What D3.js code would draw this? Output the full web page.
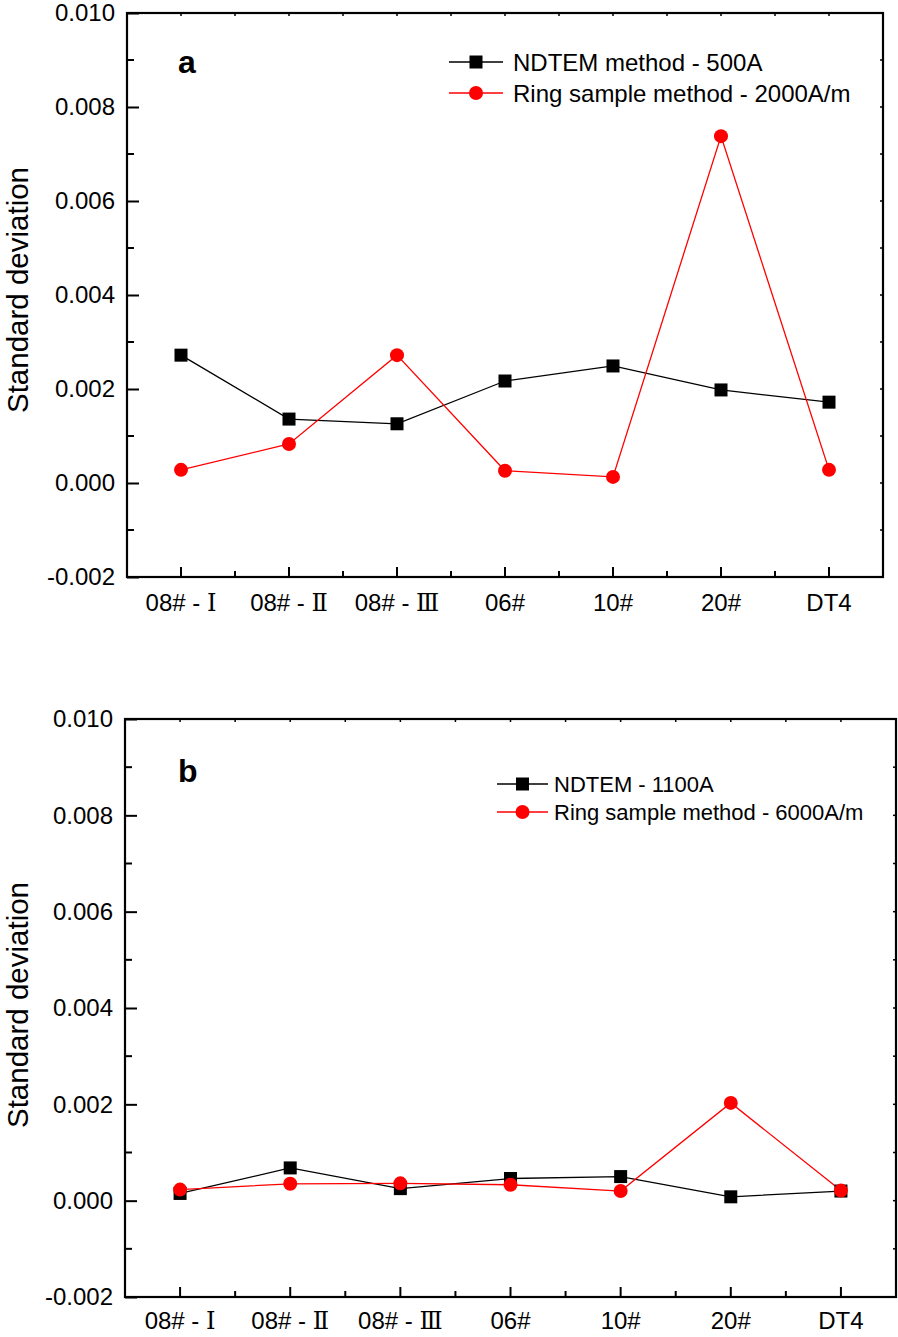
<!DOCTYPE html>
<html><head><meta charset="utf-8">
<script src="https://cdn.jsdelivr.net/npm/d3@7"></script>
<style>
html,body{margin:0;padding:0;background:#fff;}
svg{display:block;font-family:"Liberation Sans",Arial,sans-serif;}
</style></head>
<body>
<svg id="chart" width="898" height="1337"></svg>
<script>
const categories = ["08# - \u2160", "08# - \u2161", "08# - \u2162", "06#", "10#", "20#", "DT4"];
const yTicks = [-0.002, 0, 0.002, 0.004, 0.006, 0.008, 0.010];
const yTickLabels = ["-0.002", "0.000", "0.002", "0.004", "0.006", "0.008", "0.010"];

const ndtemA = [0.00272, 0.00136, 0.00126, 0.00217, 0.00249, 0.00198, 0.00172];
const ringA  = [0.00028, 0.00083, 0.00272, 0.00026, 0.00013, 0.00738, 0.00028];
const ndtemB = [0.00015, 0.00068, 0.00025, 0.00046, 0.00050, 0.00008, 0.00020];
const ringB  = [0.00023, 0.00035, 0.00036, 0.00033, 0.00020, 0.00203, 0.00021];

const legendA = ["NDTEM method - 500A", "Ring sample method - 2000A/m"];
const legendB = ["NDTEM - 1100A", "Ring sample method - 6000A/m"];

const svg = d3.select("#chart");

function panel(cfg) {
  const g = svg.append("g");
  const x = d3.scaleBand().domain(categories).range([cfg.left, cfg.right]).padding(0);
  const y = d3.scaleLinear().domain([-0.002, 0.010]).range([cfg.bottom, cfg.top]);
  const cx = d => x(d) + x.bandwidth() / 2;

  const yMinor = d3.range(-0.001, 0.0100001, 0.002);
  const xMinor = categories.slice(1).map(c => x(c));

  // left axis
  const left = g.append("g").attr("transform", `translate(${cfg.left},0)`)
    .call(d3.axisLeft(y).tickValues(yTicks).tickFormat((d, i) => yTickLabels[i]).tickSize(-12).tickPadding(12));
  left.select(".domain").remove();
  left.selectAll("line").attr("stroke", "#000").attr("stroke-width", 2);
  left.selectAll("text").attr("font-size", 24).attr("fill", "#000").attr("font-family", "Liberation Sans, Arial, sans-serif");
  g.selectAll(".yminor").data(yMinor).enter().append("line")
    .attr("x1", cfg.left).attr("x2", cfg.left + 7)
    .attr("y1", d => y(d)).attr("y2", d => y(d))
    .attr("stroke", "#000").attr("stroke-width", 2);

  // right ticks (tiny)
  g.selectAll(".yright").data(yTicks.concat(yMinor)).enter().append("line")
    .attr("x1", cfg.right).attr("x2", cfg.right - 3)
    .attr("y1", d => y(d)).attr("y2", d => y(d))
    .attr("stroke", "#000").attr("stroke-width", 1.5);

  // bottom axis
  const bottom = g.append("g").attr("transform", `translate(0,${cfg.bottom})`)
    .call(d3.axisBottom(x).tickSize(-10).tickPadding(cfg.xPad));
  bottom.select(".domain").remove();
  bottom.selectAll("line").attr("stroke", "#000").attr("stroke-width", 2);
  bottom.selectAll("text").attr("font-size", 24).attr("fill", "#000").attr("font-family", "Liberation Sans, Arial, sans-serif")
    .each(function(d) {
      const t = d3.select(this);
      const m = d.match(/^(.*?)([\u2160-\u216F]+)$/);
      if (m) {
        t.text(null);
        t.append("tspan").text(m[1]);
        t.append("tspan").attr("font-family", "DejaVu Serif, Liberation Serif, serif").text(m[2]);
      }
    });
  g.selectAll(".xminor").data(xMinor).enter().append("line")
    .attr("x1", d => d).attr("x2", d => d)
    .attr("y1", cfg.bottom).attr("y2", cfg.bottom - 6)
    .attr("stroke", "#000").attr("stroke-width", 2);

  // top tiny ticks
  g.selectAll(".xtop").data(categories.map(cx).concat(xMinor)).enter().append("line")
    .attr("x1", d => d).attr("x2", d => d)
    .attr("y1", cfg.top).attr("y2", cfg.top + 3)
    .attr("stroke", "#000").attr("stroke-width", 1.5);

  // frame
  g.append("rect").attr("x", cfg.left).attr("y", cfg.top)
    .attr("width", cfg.right - cfg.left).attr("height", cfg.bottom - cfg.top)
    .attr("fill", "none").attr("stroke", "#000").attr("stroke-width", 2.2);

  // y label
  g.append("text")
    .attr("transform", `translate(${cfg.ylabX},${cfg.ylabY}) rotate(-90)`)
    .attr("text-anchor", "middle").attr("font-size", 29.5).attr("fill", "#000")
    .text("Standard deviation");

  // panel letter
  g.append("text").attr("x", cfg.letterX).attr("y", cfg.letterY)
    .attr("font-size", 32).attr("font-weight", "bold").attr("fill", "#000")
    .text(cfg.letter);

  const line = d3.line().x((d, i) => cx(categories[i])).y(d => y(d));

  const series = [
    {vals: cfg.s1, color: "#000", shape: "square", w: 1.3},
    {vals: cfg.s2, color: "#ff0000", shape: "circle", w: 1.3}
  ];
  series.forEach(s => {
    g.append("path").datum(s.vals).attr("d", line)
      .attr("fill", "none").attr("stroke", s.color).attr("stroke-width", s.w);
  });
  series.forEach(s => {
    if (s.shape === "square") {
      g.selectAll(null).data(s.vals).enter().append("rect")
        .attr("x", (d, i) => cx(categories[i]) - 6.5).attr("y", d => y(d) - 6.5)
        .attr("width", 13).attr("height", 13).attr("fill", s.color);
    } else {
      g.selectAll(null).data(s.vals).enter().append("circle")
        .attr("cx", (d, i) => cx(categories[i])).attr("cy", d => y(d))
        .attr("r", 7).attr("fill", s.color);
    }
  });

  // legend
  const L = cfg.legend;
  series.forEach((s, i) => {
    const yy = L.y + i * L.dy;
    g.append("line").attr("x1", L.x1).attr("x2", L.x2).attr("y1", yy).attr("y2", yy)
      .attr("stroke", s.color).attr("stroke-width", 1.3);
    const mx = (L.x1 + L.x2) / 2;
    if (s.shape === "square") {
      g.append("rect").attr("x", mx - 6.5).attr("y", yy - 6.5).attr("width", 13).attr("height", 13).attr("fill", s.color);
    } else {
      g.append("circle").attr("cx", mx).attr("cy", yy).attr("r", 7).attr("fill", s.color);
    }
    g.append("text").attr("x", L.tx).attr("y", yy + L.fs * 0.36)
      .attr("font-size", L.fs).attr("fill", "#000").text(cfg.legendText[i]);
  });
}

panel({left: 127, right: 883, top: 13, bottom: 577, s1: ndtemA, s2: ringA, xPad: 17,
  letter: "a", letterX: 178, letterY: 73, ylabX: 28, ylabY: 290,
  legend: {x1: 449, x2: 503, tx: 513, y: 62, dy: 31, fs: 24}, legendText: legendA});
panel({left: 125, right: 896, top: 719, bottom: 1297, s1: ndtemB, s2: ringB, xPad: 15,
  letter: "b", letterX: 178, letterY: 782, ylabX: 28, ylabY: 1005,
  legend: {x1: 497, x2: 548, tx: 554, y: 784, dy: 28, fs: 22}, legendText: legendB});
</script>
</body></html>
